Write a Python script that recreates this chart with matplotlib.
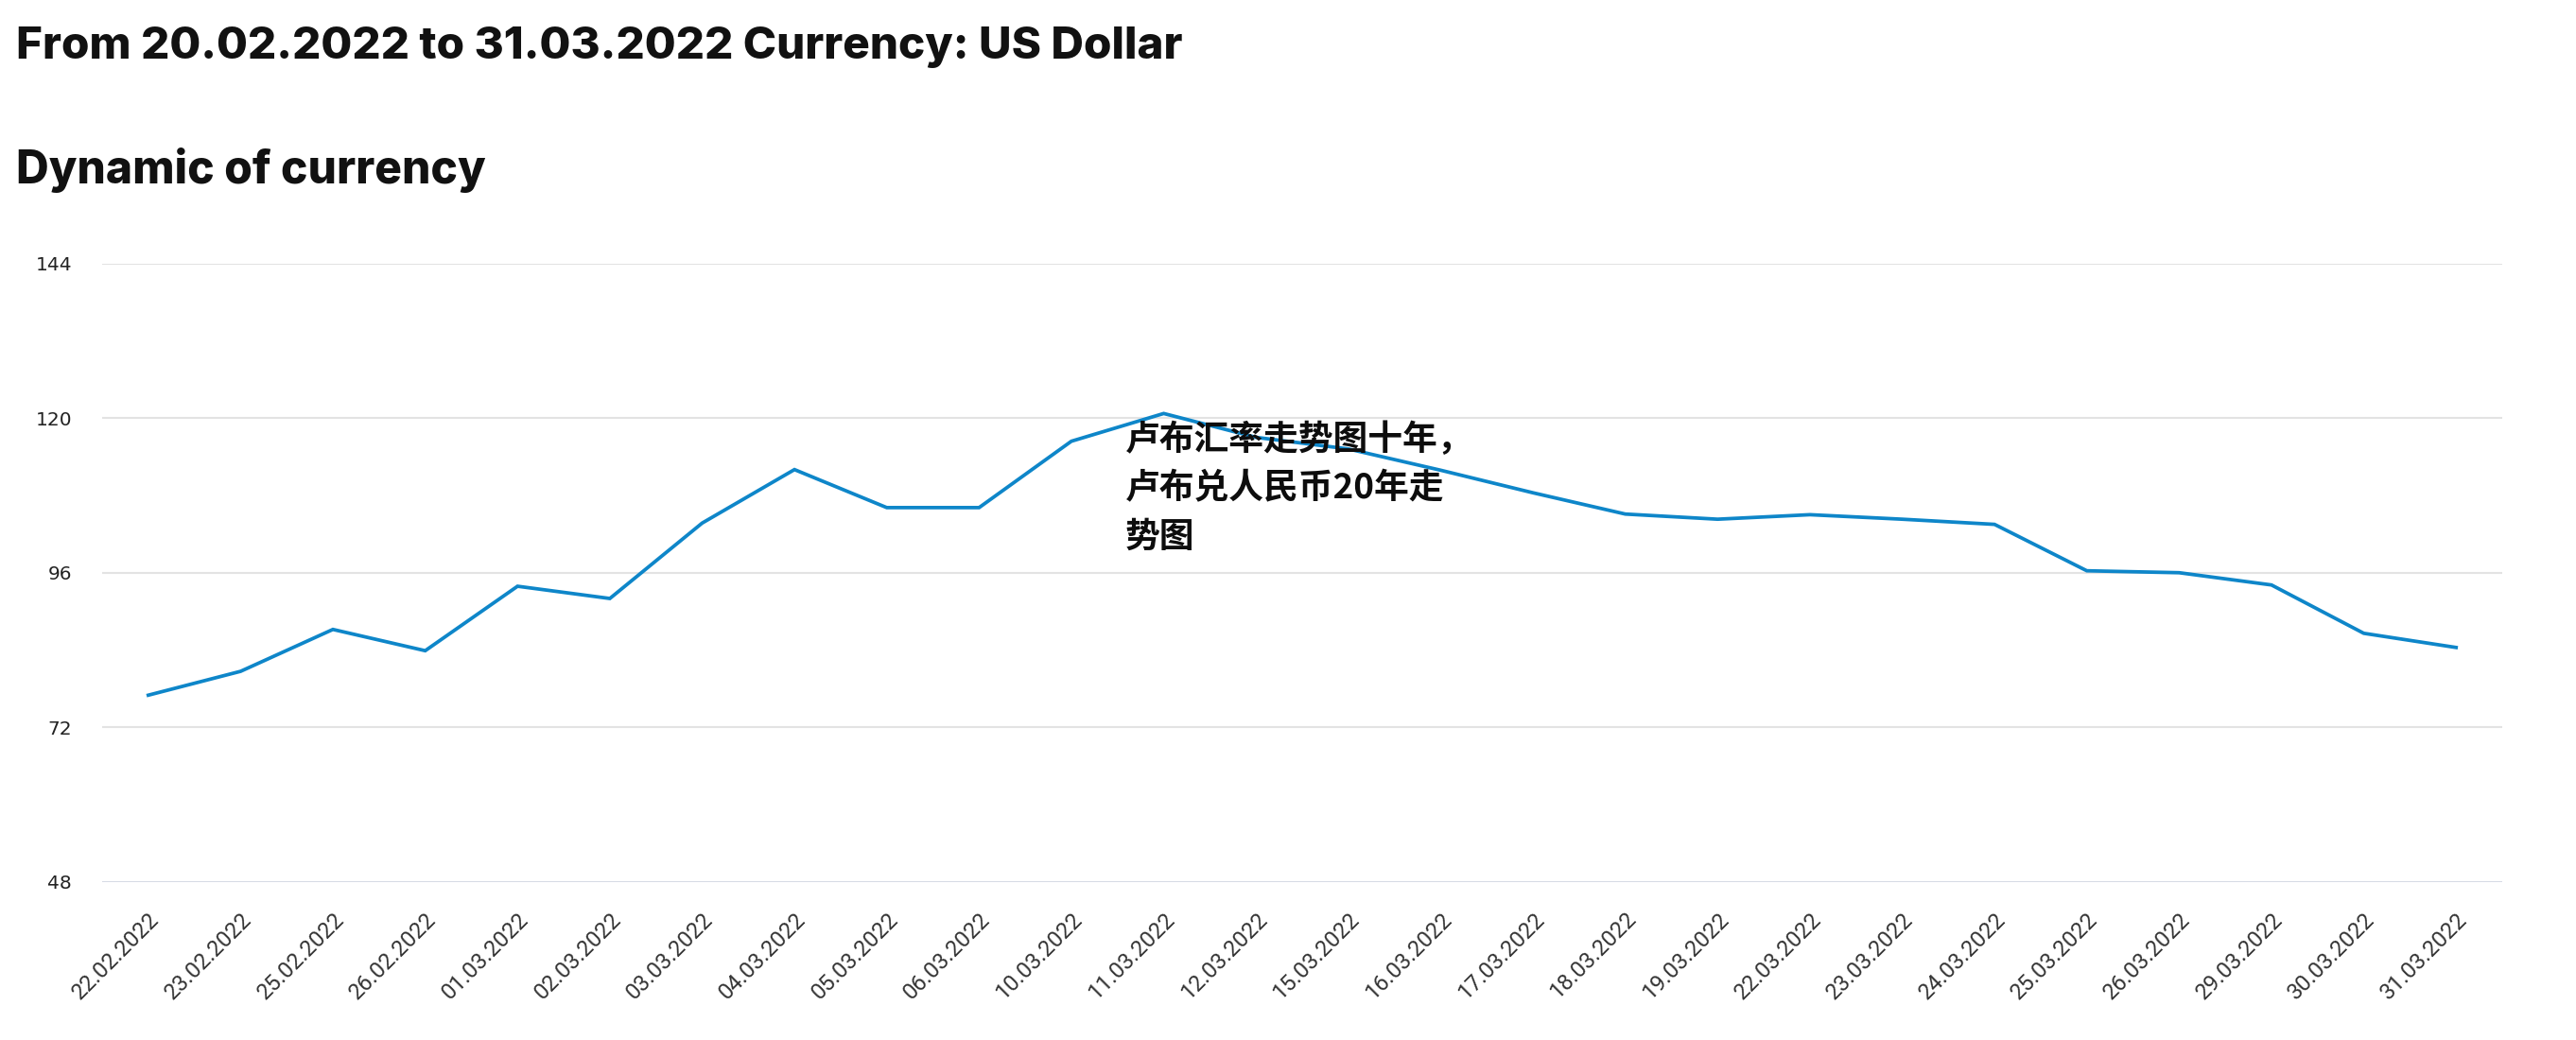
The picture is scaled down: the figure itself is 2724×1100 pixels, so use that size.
import matplotlib
matplotlib.use("Agg")
import matplotlib.pyplot as plt
from matplotlib.transforms import ScaledTranslation

dates = ["22.02.2022", "23.02.2022", "25.02.2022", "26.02.2022", "01.03.2022",
         "02.03.2022", "03.03.2022", "04.03.2022", "05.03.2022", "06.03.2022",
         "10.03.2022", "11.03.2022", "12.03.2022", "15.03.2022", "16.03.2022",
         "17.03.2022", "18.03.2022", "19.03.2022", "22.03.2022", "23.03.2022",
         "24.03.2022", "25.03.2022", "26.03.2022", "29.03.2022", "30.03.2022",
         "31.03.2022"]
values = [77.0, 80.7, 87.2, 83.9, 93.9, 92.0, 103.7, 112.0, 106.1, 106.1,
          116.4, 120.7, 117.0, 115.2, 111.9, 108.4, 105.1, 104.3, 105.0, 104.3,
          103.5, 96.3, 96.0, 94.1, 86.6, 84.4]
y_ticks = [48, 72, 96, 120, 144]

title = "From 20.02.2022 to 31.03.2022 Currency: US Dollar"
subtitle = "Dynamic of currency"
overlay_lines = ["卢布汇率走势图十年，", "卢布兑人民币20年走", "势图"]

W, H = 2724, 1100
fig = plt.figure(figsize=(W / 100, H / 100), dpi=100)
ax = fig.add_axes([108 / W, 1 - 933 / H, (2646 - 108) / W, (933 - 278.5) / H])

x = list(range(len(dates)))
ax.plot(x, values, color="#0e86c9", linewidth=2.7, solid_joinstyle="miter", zorder=3)

ax.set_xlim(-0.5, len(dates) - 0.5)
ax.set_ylim(48, 144)
ax.set_yticks(y_ticks)
ax.set_yticklabels([str(v) for v in y_ticks], fontsize=14.5, color="#222222",
                   family="DejaVu Sans")
ax.set_xticks(x)
ax.set_xticklabels(dates, rotation=45, ha="right", va="top", rotation_mode="anchor",
                   fontsize=17, color="#333333", family="Roboto")
shift = ScaledTranslation(-5 / 100, 4 / 100, fig.dpi_scale_trans)
for lbl in ax.get_xticklabels():
    lbl.set_transform(lbl.get_transform() + shift)
ax.tick_params(axis="both", length=0)
ax.tick_params(axis="y", pad=23)
ax.tick_params(axis="x", pad=20)

for s in ax.spines.values():
    s.set_visible(False)
for v in y_ticks:
    if v == 48:
        ax.axhline(v, color="#d2d6e2", linewidth=2.0, zorder=1)
    else:
        ax.axhline(v, color="#e3e3e3", linewidth=1.5, zorder=1)

fig.text(17 / W, 1 - 62.5 / H, title, fontsize=34.3, fontweight="heavy", family="Inter",
         color="#111111", va="baseline", ha="left")
fig.text(17 / W, 1 - 194.5 / H, subtitle, fontsize=34.5, fontweight="heavy", family="Inter",
         color="#111111", va="baseline", ha="left")

for i, line in enumerate(overlay_lines):
    fig.text(1190 / W, 1 - (466 + 51 * i) / H, line, fontsize=26.5, fontweight="black",
             family=["Noto Sans CJK SC", "DejaVu Sans"], color="#0d0d0d",
             va="center", ha="left", zorder=10)

fig.savefig("out.png", dpi=100, facecolor="white")
